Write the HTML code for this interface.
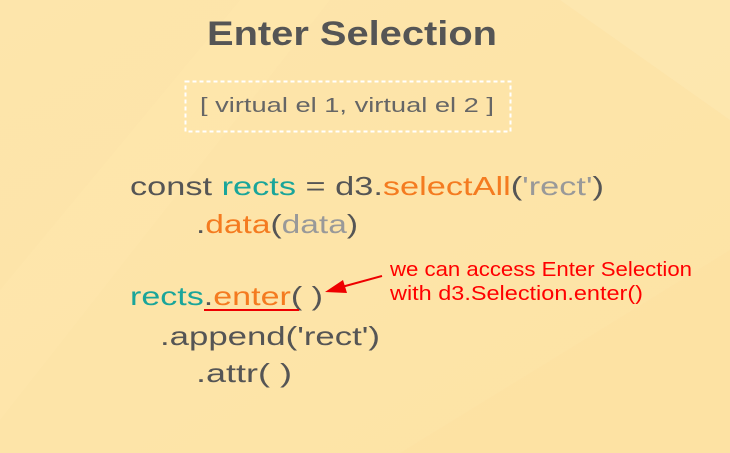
<!DOCTYPE html>
<html><head><meta charset="utf-8"><style>
html,body{margin:0;padding:0;}
body{width:730px;height:453px;overflow:hidden;background:linear-gradient(135deg,#fde6ad 0%,#fee3a6 50%,#fde2a4 100%);}
svg{display:block;}
</style></head><body>
<svg width="730" height="453" viewBox="0 0 730 453" xmlns="http://www.w3.org/2000/svg" font-family="Liberation Sans, sans-serif">
<defs><linearGradient id="g" x1="0" y1="0" x2="1" y2="1">
<stop offset="0" stop-color="#fde5ab"/><stop offset="1" stop-color="#fde3a5"/></linearGradient></defs>
<rect width="730" height="453" fill="url(#g)"/>
<polygon points="560,0 730,0 730,120" fill="#fee9b5" opacity="0.5"/>
<polygon points="0,290 240,0 330,0 0,420" fill="#fee7b0" opacity="0.35"/>
<polygon points="400,453 730,250 730,453" fill="#fde0a0" opacity="0.4"/>
<text x="207" y="45" font-size="34" font-weight="bold" fill="#555" textLength="290" lengthAdjust="spacingAndGlyphs">Enter Selection</text>
<rect x="185.5" y="81.5" width="325" height="50" fill="none" stroke="#fff" stroke-width="2" stroke-dasharray="4,3"/>
<text x="200" y="112" font-size="20" fill="#666" textLength="294" lengthAdjust="spacingAndGlyphs">[ virtual el 1, virtual el 2 ]</text>
<g font-size="26">
<text x="130" y="195" textLength="474" lengthAdjust="spacingAndGlyphs"><tspan fill="#555">const </tspan><tspan fill="#1aa59a">rects</tspan><tspan fill="#555"> = d3.</tspan><tspan fill="#f47b20">selectAll</tspan><tspan fill="#555">(</tspan><tspan fill="#999">'rect'</tspan><tspan fill="#555">)</tspan></text>
<text x="196" y="233" textLength="162" lengthAdjust="spacingAndGlyphs"><tspan fill="#555">.</tspan><tspan fill="#f47b20">data</tspan><tspan fill="#555">(</tspan><tspan fill="#999">data</tspan><tspan fill="#555">)</tspan></text>
<text x="130" y="305" textLength="193" lengthAdjust="spacingAndGlyphs"><tspan fill="#1aa59a">rects</tspan><tspan fill="#555">.</tspan><tspan fill="#f47b20">enter</tspan><tspan fill="#555">( )</tspan></text>
<text x="160" y="345" textLength="220" lengthAdjust="spacingAndGlyphs" fill="#555">.append('rect')</text>
<text x="196" y="382" textLength="96" lengthAdjust="spacingAndGlyphs" fill="#555">.attr( )</text>
</g>
<line x1="204" y1="310" x2="299" y2="310" stroke="#e00" stroke-width="2"/>
<line x1="382" y1="276" x2="338" y2="288" stroke="#e00" stroke-width="2"/>
<polygon points="325,292 343,280 347,293" fill="#e00"/>
<text x="390" y="276" font-size="20" fill="#f00" textLength="302" lengthAdjust="spacingAndGlyphs">we can access Enter Selection</text>
<text x="390" y="300" font-size="20" fill="#f00" textLength="253" lengthAdjust="spacingAndGlyphs">with d3.Selection.enter()</text>
</svg>
</body></html>
